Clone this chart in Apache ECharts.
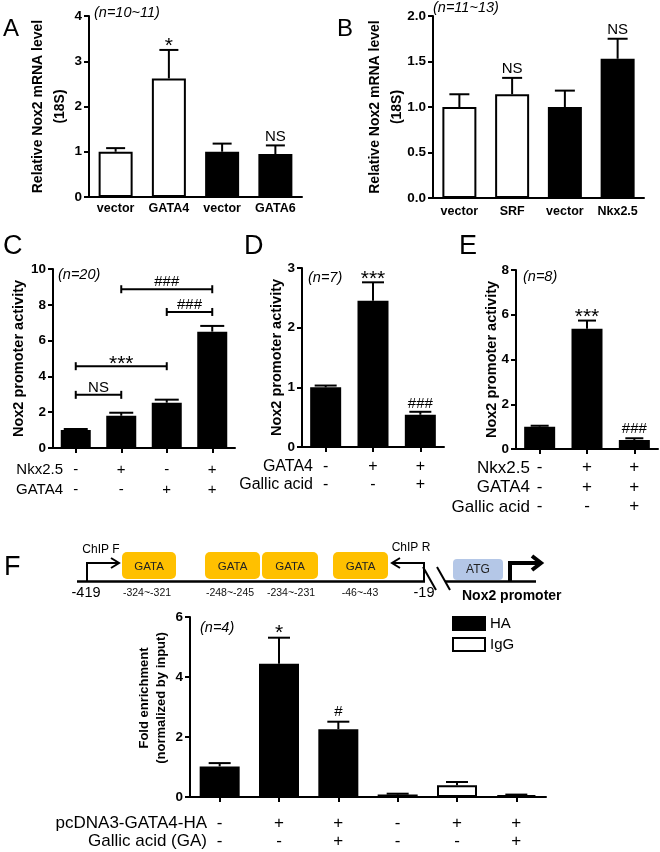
<!DOCTYPE html>
<html><head><meta charset="utf-8">
<script src="https://cdn.jsdelivr.net/npm/echarts@6/dist/echarts.min.js"></script>
<style>html,body{margin:0;padding:0;background:#fff}#c{width:660px;height:852px}</style>
</head><body><div id="c"></div>
<script>
// ---------- DATA ----------
// Panel A
const catsA = ['vector', 'GATA4', 'vector', 'GATA6'];
const valA = [1.0, 2.62, 1.0, 0.95];
const errA = [1.08, 3.25, 1.18, 1.14];
const sigA = ['', '*', '', 'NS'];
// Panel B
const catsB = ['vector', 'SRF', 'vector', 'Nkx2.5'];
const valB = [1.0, 1.14, 1.0, 1.53];
const errB = [1.14, 1.32, 1.18, 1.75];
const sigB = ['', 'NS', '', 'NS'];
// Panel C
const rowNamesC = ['Nkx2.5', 'GATA4'];
const signsC = [['-', '+', '-', '+'], ['-', '-', '+', '+']];
const valC = [1.0, 1.8, 2.53, 6.5];
const errC = [1.06, 1.97, 2.7, 6.82];
const bracketsC = [[0, 1, 2.97], [0, 2, 4.57], [1, 3, 8.87], [2, 3, 7.6]];
const bracketTextC = ['NS', '***', '###', '###'];
// Panel D
const rowNamesD = ['GATA4', 'Gallic acid'];
const signsD = [['-', '+', '+'], ['-', '-', '+']];
const valD = [1.0, 2.45, 0.54];
const errD = [1.03, 2.76, 0.59];
const sigD = ['', '***', '###'];
// Panel E
const rowNamesE = ['Nkx2.5', 'GATA4', 'Gallic acid'];
const signsE = [['-', '+', '+'], ['-', '+', '+'], ['-', '-', '+']];
const valE = [1.0, 5.37, 0.4];
const errE = [1.04, 5.74, 0.48];
const sigE = ['', '***', '###'];
// Panel F
const rowNamesF = ['pcDNA3-GATA4-HA', 'Gallic acid (GA)'];
const signsF = [['-', '+', '+', '-', '+', '+'], ['-', '-', '+', '-', '-', '+']];
const antibodyF = ['HA', 'HA', 'HA', 'IgG', 'IgG', 'IgG'];
const valF = [1.02, 4.44, 2.26, 0.08, 0.39, 0.06];
const errF = [1.13, 5.31, 2.51, 0.11, 0.5, 0.08];
const sigF = ['', '*', '#', '', '', ''];
const nTexts = ['(n=10~11)', '(n=11~13)', '(n=20)', '(n=7)', '(n=8)', '(n=4)'];
const panelLetters = ['A', 'B', 'C', 'D', 'E', 'F'];
// Promoter diagram labels
const siteLabels = ['-324~-321', '-248~-245', '-234~-231', '-46~-43'];
const endLabels = ['-419', '-19'];
const primerLabels = ['ChIP F', 'ChIP R'];

// ---------- BUILD ----------
const FONT = '"Liberation Sans", Arial, Helvetica, sans-serif';
const grids = [], xAxes = [], yAxes = [], series = [], graphics = [];

function errRender(capHalf) {
  return function (params, api) {
    const x = api.value(0), v = api.value(1), e = api.value(2);
    const p0 = api.coord([x, v]), p1 = api.coord([x, e]);
    return { type: 'group', children: [
      { type: 'line', shape: { x1: p0[0], y1: p0[1], x2: p1[0], y2: p1[1] }, style: { stroke: '#000', lineWidth: 2 } },
      { type: 'line', shape: { x1: p1[0] - capHalf, y1: p1[1], x2: p1[0] + capHalf, y2: p1[1] }, style: { stroke: '#000', lineWidth: 2 } }
    ] };
  };
}
function sigStyle(t) {
  const star = t.indexOf('*') >= 0;
  return { star: star, fs: star ? 21 : 15 };
}
function sigRender(texts, gap) {
  return function (params, api) {
    const t = texts[params.dataIndex];
    if (!t) return null;
    const p = api.coord([api.value(0), api.value(1)]);
    const s = sigStyle(t);
    return { type: 'text', x: p[0], y: p[1] - gap + (s.star ? s.fs * 0.25 : 0),
      style: { text: t, align: 'center', verticalAlign: 'middle', fontSize: s.fs, fontFamily: FONT, fill: '#000' } };
  };
}

function addPanel(p) {
  const gi = grids.length;
  grids.push({ left: p.left, top: p.top, width: p.width, height: p.height, containLabel: false, outerBoundsMode: 'none' });
  xAxes.push({
    type: 'category', gridIndex: gi, data: p.cats, boundaryGap: true,
    axisLine: { show: true, onZero: false, lineStyle: { color: '#000', width: 2 } },
    axisTick: { show: p.xTicks, alignWithLabel: true, length: 5, lineStyle: { color: '#000', width: 2 } },
    axisLabel: { interval: 0, margin: p.labelMargin, color: '#000', fontFamily: FONT, fontSize: p.catFont,
      fontWeight: p.catWeight, lineHeight: p.catLH, formatter: p.catFormatter }
  });
  yAxes.push({
    type: 'value', gridIndex: gi, min: 0, max: p.max, interval: p.interval,
    axisLine: { show: true, lineStyle: { color: '#000', width: 2 } },
    axisTick: { show: true, length: 5, lineStyle: { color: '#000', width: 2 } },
    splitLine: { show: false },
    axisLabel: { margin: 7, color: '#000', fontFamily: FONT, fontSize: 13.5, fontWeight: 'bold', formatter: p.yFmt },
    name: p.yName, nameLocation: 'middle', nameGap: p.nameGap, nameRotate: 90, nameMoveOverlap: false,
    nameTextStyle: { color: '#000', fontFamily: FONT, fontSize: p.nameFont, fontWeight: 'bold', lineHeight: p.nameLH, padding: p.namePad || 0 }
  });
  if (p.barSeries) {
    p.barSeries.forEach(bs => series.push(Object.assign({ type: 'bar', xAxisIndex: gi, yAxisIndex: gi, barWidth: p.barWidth, barGap: '-100%', z: 2 }, bs)));
  } else {
    series.push({ type: 'bar', xAxisIndex: gi, yAxisIndex: gi, barWidth: p.barWidth, z: 2,
      data: p.vals.map((v, i) => ({ value: v, itemStyle: { color: p.fills[i], borderColor: '#000', borderWidth: 2 } })) });
  }
  series.push({ type: 'custom', xAxisIndex: gi, yAxisIndex: gi, z: 3, renderItem: errRender(p.cap),
    encode: { x: 0, y: 1 }, data: p.vals.map((v, i) => [i, v, p.errs[i]]) });
  if (p.sigs) {
    series.push({ type: 'custom', xAxisIndex: gi, yAxisIndex: gi, z: 4, renderItem: sigRender(p.sigs, p.sigGap),
      encode: { x: 0, y: 1 }, data: p.errs.map((e, i) => [i, e]) });
  }
  return gi;
}

const W = '#fff', K = '#000';
const signFmt = rows => (val, idx) => rows.map(r => r[idx]).join('\n');

// A
addPanel({ left: 89, top: 16, width: 213, height: 181, cats: catsA, vals: valA, errs: errA, sigs: sigA, sigGap: 9,
  fills: [W, W, K, K], barWidth: 34, cap: 9.5, max: 4, interval: 1, xTicks: false, labelMargin: 5, catFont: 12.5, catWeight: 'bold',
  yName: 'Relative Nox2 mRNA level\n(18S)', nameGap: 18, nameFont: 14, nameLH: 22 });
// B
addPanel({ left: 433, top: 16, width: 211, height: 182, cats: catsB, vals: valB, errs: errB, sigs: sigB, sigGap: 9,
  fills: [W, W, K, K], barWidth: 34, cap: 10, max: 2, interval: 0.5, xTicks: false, labelMargin: 7, catFont: 12.5, catWeight: 'bold',
  yFmt: v => v.toFixed(1),
  yName: 'Relative Nox2 mRNA level\n(18S)', nameGap: 25, nameFont: 14, nameLH: 22 });
// C
const giC = addPanel({ left: 53, top: 269, width: 182, height: 179, cats: signsC[0].map((s, i) => 'c' + i), vals: valC, errs: errC,
  fills: [K, K, K, K], barWidth: 30, cap: 12, max: 10, interval: 2, xTicks: true, labelMargin: 12, catFont: 15, catWeight: 'normal',
  catLH: 20, catFormatter: signFmt(signsC),
  yName: 'Nox2 promoter activity', nameGap: 26, nameFont: 14.5, nameLH: 17 });
series.push({ type: 'custom', xAxisIndex: giC, yAxisIndex: giC, z: 4, encode: { x: 0, y: 2 },
  data: bracketsC,
  renderItem: function (params, api) {
    const a = api.coord([api.value(0), api.value(2)]), b = api.coord([api.value(1), api.value(2)]);
    const t = bracketTextC[params.dataIndex];
    const s = sigStyle(t);
    const st = { stroke: '#000', lineWidth: 2 };
    return { type: 'group', children: [
      { type: 'line', shape: { x1: a[0], y1: a[1], x2: b[0], y2: b[1] }, style: st },
      { type: 'line', shape: { x1: a[0], y1: a[1] - 4, x2: a[0], y2: a[1] + 4 }, style: st },
      { type: 'line', shape: { x1: b[0], y1: b[1] - 4, x2: b[0], y2: b[1] + 4 }, style: st },
      { type: 'text', x: (a[0] + b[0]) / 2, y: a[1] - 7 + (s.star ? s.fs * 0.25 : 0),
        style: { text: t, align: 'center', verticalAlign: 'middle', fontSize: s.fs, fontFamily: FONT, fill: '#000' } }
    ] };
  } });
// D
addPanel({ left: 302, top: 268, width: 142, height: 179, cats: signsD[0].map((s, i) => 'd' + i), vals: valD, errs: errD, sigs: sigD, sigGap: 8,
  fills: [K, K, K], barWidth: 31, cap: 11, max: 3, interval: 1, xTicks: true, labelMargin: 11, catFont: 16, catWeight: 'normal',
  catLH: 18, catFormatter: signFmt(signsD),
  yName: 'Nox2 promoter activity', nameGap: 17, nameFont: 14.5, nameLH: 17 });
// E
addPanel({ left: 516, top: 270, width: 142, height: 179, cats: signsE[0].map((s, i) => 'e' + i), vals: valE, errs: errE, sigs: sigE, sigGap: 9,
  fills: [K, K, K], barWidth: 31, cap: 9, max: 8, interval: 2, xTicks: true, labelMargin: 9, catFont: 17, catWeight: 'normal',
  catLH: 19.5, catFormatter: signFmt(signsE),
  yName: 'Nox2 promoter activity', nameGap: 16, nameFont: 14.5, nameLH: 17 });
// F
const fillOf = ab => ab === 'HA' ? K : W;
addPanel({ left: 190, top: 617, width: 356, height: 180, cats: signsF[0].map((s, i) => 'f' + i), vals: valF, errs: errF, sigs: sigF, sigGap: 10,
  barWidth: 40, cap: 11, max: 6, interval: 2, xTicks: true, labelMargin: 17, catFont: 17, catWeight: 'normal',
  catLH: 18, catFormatter: signFmt(signsF),
  yName: 'Fold enrichment\n(normalized by input)', nameGap: 20, nameFont: 13, nameLH: 17, namePad: [0, 0, 0, 18],
  barSeries: ['HA', 'IgG'].map(ab => ({ name: ab, itemStyle: { color: fillOf(ab), borderColor: '#000', borderWidth: 2 },
    data: valF.map((v, i) => antibodyF[i] === ab ? v : null) })) });

// ---------- TEXT GRAPHICS ----------
function txt(x, y, t, o) {
  graphics.push({ type: 'text', x: x, y: y, silent: true, style: Object.assign({ text: t, fontFamily: FONT, fill: '#000',
    align: 'left', verticalAlign: 'middle', fontSize: 14 }, o || {}) });
}
// panel letters
const letterPos = [[3, 29, 24], [337, 29, 24], [3, 247, 27], [244, 247, 27], [459, 247, 27], [4, 568, 27]];
panelLetters.forEach((l, i) => txt(letterPos[i][0], letterPos[i][1], l, { fontSize: letterPos[i][2] }));
// n texts
const nPos = [[94, 13], [433, 8], [58, 275], [308, 278], [523, 277], [200, 628]];
nTexts.forEach((t, i) => txt(nPos[i][0], nPos[i][1], t, { fontSize: 14.5, fontStyle: 'italic' }));
// row names
function rowNames(names, right, y0, dy, fs) {
  names.forEach((n, i) => txt(right, y0 + i * dy, n, { align: 'right', fontSize: fs }));
}
rowNames(rowNamesC, 63, 470, 20, 15);
rowNames(rowNamesD, 313, 467, 18, 16);
rowNames(rowNamesE, 530, 468, 19.5, 17);
rowNames(rowNamesF, 207, 823, 18, 17);

// ---------- PROMOTER DIAGRAM ----------
const LY = 581.5;
const stroke2 = { stroke: '#000', lineWidth: 2.5, fill: null };
graphics.push({ type: 'line', shape: { x1: 77, y1: LY, x2: 425, y2: LY }, style: stroke2 });
graphics.push({ type: 'line', shape: { x1: 445, y1: LY, x2: 536, y2: LY }, style: stroke2 });
graphics.push({ type: 'line', shape: { x1: 423, y1: 567, x2: 436, y2: 590 }, style: { stroke: '#000', lineWidth: 2 } });
graphics.push({ type: 'line', shape: { x1: 437, y1: 567, x2: 450, y2: 590 }, style: { stroke: '#000', lineWidth: 2 } });
const gataBoxes = [[122, 176], [205, 260], [262, 318], [333, 388]];
const siteCenters = [147, 230, 291, 360];
gataBoxes.forEach(b => {
  graphics.push({ type: 'rect', shape: { x: b[0], y: 552, width: b[1] - b[0], height: 27, r: 5 }, style: { fill: '#FFC000' } });
  txt((b[0] + b[1]) / 2, 566.5, 'GATA', { align: 'center', fontSize: 11.5, fill: '#222' });
});
siteLabels.forEach((s, i) => txt(siteCenters[i], 593, s, { align: 'center', fontSize: 10.5, fill: '#111' }));
txt(86, 593, endLabels[0], { align: 'center', fontSize: 14.5 });
txt(424, 593, endLabels[1], { align: 'center', fontSize: 14.5 });
// ATG box
graphics.push({ type: 'rect', shape: { x: 453, y: 559, width: 50, height: 21, r: 4 }, style: { fill: '#B4C7E7' } });
txt(478, 570, 'ATG', { align: 'center', fontSize: 12, fill: '#222' });
// ChIP F arrow
graphics.push({ type: 'polyline', shape: { points: [[87, LY], [87, 563], [118, 563]] }, style: { stroke: '#000', lineWidth: 2, fill: null } });
graphics.push({ type: 'polyline', shape: { points: [[111, 558], [119, 563], [111, 568]] }, style: { stroke: '#000', lineWidth: 2, fill: null } });
txt(101, 550, primerLabels[0], { align: 'center', fontSize: 12 });
// ChIP R arrow
graphics.push({ type: 'polyline', shape: { points: [[424, LY], [424, 563], [393, 563]] }, style: { stroke: '#000', lineWidth: 2, fill: null } });
graphics.push({ type: 'polyline', shape: { points: [[400, 558], [392, 563], [400, 568]] }, style: { stroke: '#000', lineWidth: 2, fill: null } });
txt(411, 548, primerLabels[1], { align: 'center', fontSize: 12 });
// Nox2 TSS arrow
graphics.push({ type: 'polyline', shape: { points: [[510, LY], [510, 563], [540, 563]] }, style: { stroke: '#000', lineWidth: 4, fill: null } });
graphics.push({ type: 'polyline', shape: { points: [[532, 556], [541, 563], [532, 570]] }, style: { stroke: '#000', lineWidth: 4, fill: null } });
txt(462, 596, 'Nox2 promoter', { fontSize: 14, fontWeight: 'bold' });

// ---------- CHART ----------
const chart = echarts.init(document.getElementById('c'), null, { renderer: 'canvas' });
chart.setOption({
  backgroundColor: '#fff',
  animation: false,
  textStyle: { fontFamily: FONT, color: '#000' },
  grid: grids, xAxis: xAxes, yAxis: yAxes, series: series,
  legend: { data: ['HA', 'IgG'], left: 452, top: 616, orient: 'vertical', icon: 'rect', itemWidth: 32, itemHeight: 13,
    itemGap: 6, padding: 0, selectedMode: false,
    itemStyle: { borderColor: '#000', borderWidth: 2 },
    textStyle: { fontSize: 15, fontFamily: FONT, color: '#000', lineHeight: 14 } },
  graphic: { elements: graphics }
});
</script></body></html>
